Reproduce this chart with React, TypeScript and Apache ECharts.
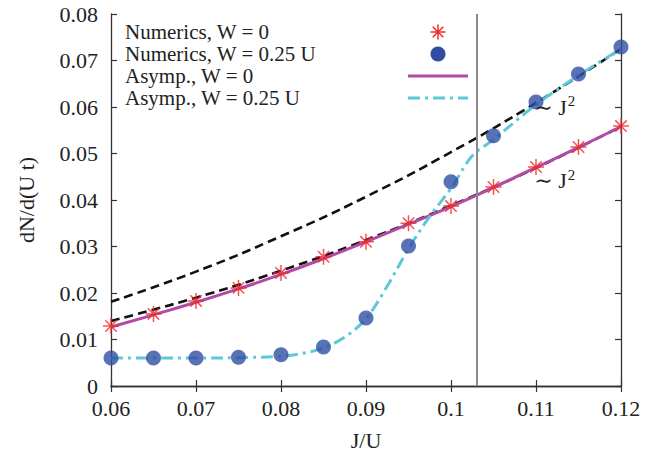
import React, { useEffect, useRef } from 'react';
import * as echarts from 'echarts';

// Numerical data (J/U sampled every 0.005)
const jValues = [0.06, 0.065, 0.07, 0.075, 0.08, 0.085, 0.09, 0.095, 0.1, 0.105, 0.11, 0.115, 0.12];
const numericsW0 = [0.0129, 0.0155, 0.0183, 0.0211, 0.0243, 0.0278, 0.031, 0.035, 0.0387, 0.0428, 0.0471, 0.0514, 0.0559];
const numericsW025 = [0.006, 0.006, 0.006, 0.0062, 0.0067, 0.0084, 0.0146, 0.0301, 0.0439, 0.0538, 0.0611, 0.0671, 0.0729];

// Asymptotic curves
const asympW0 = [0.0127, 0.0153, 0.018, 0.0209, 0.024, 0.0274, 0.031, 0.0348, 0.0386, 0.0427, 0.047, 0.0513, 0.0558];
const asympJ025 = [0.06, 0.065, 0.07, 0.075, 0.08, 0.0825, 0.085, 0.0875, 0.09, 0.0925, 0.095, 0.0975, 0.1, 0.1025, 0.105, 0.11, 0.115, 0.12];
const asympW025 = [0.006, 0.006, 0.006, 0.0061, 0.0064, 0.007, 0.0082, 0.0105, 0.0145, 0.0215, 0.0295, 0.0365, 0.0425, 0.0495, 0.053, 0.0605, 0.0668, 0.0725];

// ~J^2 guide curves (black dashed)
const guideJ = [0.06, 0.07, 0.08, 0.09, 0.1, 0.11, 0.12];
const guideUpper = [0.0181, 0.0246, 0.0322, 0.0407, 0.0503, 0.0609, 0.0725];
const guideLower = [0.014, 0.019, 0.0248, 0.0314, 0.0388, 0.0469, 0.0558];

// Critical J marker and annotations
const criticalJ = 0.103;
const annotations = [
  { j: 0.1122, v: 0.06 },
  { j: 0.1122, v: 0.0441 },
];

const legendLabels = ['Numerics, W = 0', 'Numerics, W = 0.25 U', 'Asymp., W = 0', 'Asymp., W = 0.25 U'];

const X_MIN = 0.06, X_MAX = 0.12, X_STEP = 0.01;
const Y_MIN = 0, Y_MAX = 0.08, Y_STEP = 0.01;

const FONT = "'Liberation Serif', 'DejaVu Serif', serif";
const FS = 22;
const LEGEND_FS = 21;
const RED = '#f02828';
const BLUE = '#2f4ea3';
const MAGENTA = '#b34aa6';
const CYAN = '#5cc8d8';
const AXIS = '#333333';
const TEXT = '#222222';

const STAR = 'path://M0,8L16,8M8,0L8,16M2.3,2.3L13.7,13.7M13.7,2.3L2.3,13.7';

const zip = (xs: number[], ys: number[]) => xs.map((x, i) => [x, ys[i]]);

export default function App() {
  const ref = useRef<HTMLDivElement>(null);
  useEffect(() => {
    if (!ref.current) return;
    const chart = echarts.init(ref.current, null, { renderer: 'svg' });

    const axisCommon = {
      type: 'value' as const,
      axisLine: { show: true, lineStyle: { color: AXIS, width: 1.3 } },
      axisTick: { show: true, inside: true, length: 6, lineStyle: { color: AXIS, width: 1.2 } },
      splitLine: { show: false },
    };

    const legendRowY = [32, 54, 76, 98];
    const legendTextX = 125;
    const iconCx = 438;
    const graphic: any[] = [];
    legendLabels.forEach((t, i) => {
      graphic.push({
        type: 'text',
        x: legendTextX,
        y: legendRowY[i],
        style: {
          text: t,
          font: `${LEGEND_FS}px ${FONT}`,
          lineHeight: 20,
          fill: TEXT,
          verticalAlign: 'middle',
          align: 'left',
        },
      });
    });
    // star icon
    const s = 7.5, d = 5.3;
    [[-s, 0, s, 0], [0, -s, 0, s], [-d, -d, d, d], [d, -d, -d, d]].forEach(([x1, y1, x2, y2]) => {
      graphic.push({
        type: 'line',
        shape: { x1: iconCx + x1, y1: legendRowY[0] + y1, x2: iconCx + x2, y2: legendRowY[0] + y2 },
        style: { stroke: RED, lineWidth: 1.5 },
      });
    });
    graphic.push({ type: 'circle', shape: { cx: iconCx, cy: legendRowY[1], r: 7.5 }, style: { fill: BLUE } });
    graphic.push({
      type: 'line',
      shape: { x1: 408, y1: legendRowY[2], x2: 468, y2: legendRowY[2] },
      style: { stroke: MAGENTA, lineWidth: 3 },
    });
    graphic.push({
      type: 'line',
      shape: { x1: 408, y1: legendRowY[3], x2: 468, y2: legendRowY[3] },
      style: { stroke: CYAN, lineWidth: 3, lineDash: [12, 5, 3, 5] },
    });

    chart.setOption({
      animation: false,
      backgroundColor: '#ffffff',
      textStyle: { fontFamily: FONT },
      grid: { left: 111, right: 43, top: 14, bottom: 71, containLabel: false },
      xAxis: [
        {
          ...axisCommon,
          min: X_MIN,
          max: X_MAX,
          interval: X_STEP,
          position: 'bottom',
          name: 'J/U',
          nameLocation: 'middle',
          nameGap: 43,
          nameTextStyle: { fontFamily: FONT, fontSize: FS, color: TEXT },
          axisLabel: { fontFamily: FONT, fontSize: FS, color: TEXT, margin: 11 },
        },
        {
          ...axisCommon,
          min: X_MIN,
          max: X_MAX,
          interval: X_STEP,
          position: 'top',
          axisLabel: { show: false },
        },
      ],
      yAxis: [
        {
          ...axisCommon,
          min: Y_MIN,
          max: Y_MAX,
          interval: Y_STEP,
          position: 'left',
          name: 'dN/d(U t)',
          nameLocation: 'middle',
          nameGap: 74,
          nameTextStyle: { fontFamily: FONT, fontSize: FS, color: TEXT },
          axisLabel: { fontFamily: FONT, fontSize: FS, color: TEXT, margin: 13 },
        },
        {
          ...axisCommon,
          min: Y_MIN,
          max: Y_MAX,
          interval: Y_STEP,
          position: 'right',
          axisLabel: { show: false },
        },
      ],
      graphic,
      series: [
        {
          name: 'guide upper',
          type: 'line',
          data: zip(guideJ, guideUpper),
          smooth: true,
          symbol: 'none',
          lineStyle: { color: '#111111', width: 2.6, type: [9, 5] },
          z: 1,
          markLine: {
            silent: true,
            symbol: ['none', 'none'],
            label: { show: false },
            lineStyle: { color: '#8a8a8a', width: 2, type: 'solid' },
            data: [[{ coord: [criticalJ, Y_MIN] }, { coord: [criticalJ, Y_MAX] }]],
          },
        },
        {
          name: 'guide lower',
          type: 'line',
          data: zip(guideJ, guideLower),
          smooth: true,
          symbol: 'none',
          lineStyle: { color: '#111111', width: 2.6, type: [9, 5] },
          z: 1,
        },
        {
          name: legendLabels[2],
          type: 'line',
          data: zip(jValues, asympW0),
          smooth: true,
          symbol: 'none',
          lineStyle: { color: MAGENTA, width: 3 },
          z: 2,
          markPoint: {
            symbol: 'circle',
            symbolSize: 0,
            label: {
              show: true,
              position: 'inside',
              formatter: '∼ J{sup|2}',
              fontFamily: FONT,
              fontSize: FS,
              color: TEXT,
              rich: { sup: { fontFamily: FONT, fontSize: 15, color: TEXT, padding: [0, 0, 12, 1] } },
            },
            data: annotations.map((a) => ({ coord: [a.j, a.v] })),
          },
        },
        {
          name: legendLabels[3],
          type: 'line',
          data: zip(asympJ025, asympW025),
          smooth: 0.35,
          symbol: 'none',
          lineStyle: { color: CYAN, width: 3, type: [12, 5, 3, 5] },
          z: 2,
        },
        {
          name: legendLabels[0],
          type: 'scatter',
          data: zip(jValues, numericsW0),
          symbol: STAR,
          symbolSize: 16,
          clip: false,
          itemStyle: { color: 'rgba(0,0,0,0)', borderColor: RED, borderWidth: 1.5 },
          z: 4,
        },
        {
          name: legendLabels[1],
          type: 'scatter',
          data: zip(jValues, numericsW025),
          symbol: 'circle',
          symbolSize: 15,
          clip: false,
          itemStyle: { color: BLUE },
          z: 4,
        },
      ],
    });
    return () => chart.dispose();
  }, []);
  return <div ref={ref} style={{ position: 'fixed', left: 0, top: 0, width: 664, height: 457 }} />;
}
